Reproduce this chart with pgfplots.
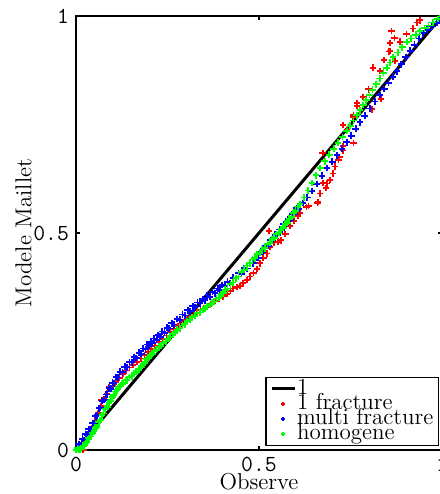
\documentclass[border=0pt]{standalone}
\usepackage{fontspec}
\usepackage{pgfplots}
\pgfplotsset{compat=1.18}
\newcommand{\lbl}{\fontsize{11.5}{12}\selectfont}
\pgfplotsset{
  lineleg/.style={legend image code/.code={\draw[##1] (0pt,0pt) -- (11.5pt,0pt);}},
  markleg/.style={legend image code/.code={\draw[##1, mark size=0.9pt] plot coordinates {(5.75pt,0pt)};}},
}
\begin{document}
\begin{tikzpicture}
\begin{axis}[
  width=183pt, height=217pt, scale only axis,
  xmin=0, xmax=1, ymin=0, ymax=1,
  clip=false,
  xtick={0,0.5,1}, ytick={0,0.5,1},
  xticklabels={\texttt{0},\texttt{0.5},\texttt{1}},
  yticklabels={\texttt{0},\texttt{0.5},\texttt{1}},
  tick align=inside, major tick length=2pt,
  axis line style={line width=0.8pt},
  tick style={line width=0.6pt, black},
  ticklabel style={font=\lbl},
  xlabel={Observe}, ylabel={Modele Maillet},
  label style={font=\lbl},
  xlabel style={yshift=6pt},
  ylabel style={yshift=-6pt},
  legend style={at={(1,0)}, anchor=south east, xshift=-1.5pt, yshift=2pt,
    draw=black, line width=0.6pt, inner sep=2pt, font=\lbl,
    cells={anchor=west}, row sep=0pt,
    nodes={inner sep=0.5pt, text height=5.8pt, text depth=0.7pt}},
]
\addplot[black, line width=1.5pt, lineleg]
  coordinates {(0,0) (1,1)};
\addlegendentry{1}
\addplot[only marks, mark=+, red, mark size=1.6pt, mark options={line width=0.9pt}, markleg]
  table {
0.020 0.000
0.028 0.015
0.036 0.032
0.044 0.050
0.052 0.068
0.060 0.085
0.070 0.115
0.068 0.102
0.077 0.118
0.085 0.130
0.090 0.145
0.093 0.140
0.101 0.148
0.110 0.157
0.119 0.166
0.128 0.175
0.137 0.183
0.146 0.190
0.156 0.196
0.167 0.203
0.177 0.211
0.187 0.219
0.196 0.226
0.205 0.233
0.216 0.240
0.227 0.248
0.237 0.256
0.247 0.264
0.257 0.272
0.268 0.279
0.279 0.286
0.290 0.293
0.300 0.299
0.311 0.306
0.321 0.312
0.330 0.317
0.340 0.322
0.349 0.326
0.358 0.330
0.369 0.336
0.380 0.343
0.391 0.349
0.402 0.354
0.413 0.360
0.422 0.367
0.430 0.372
0.439 0.376
0.448 0.378
0.457 0.384
0.467 0.392
0.476 0.400
0.485 0.408
0.494 0.417
0.503 0.430
0.512 0.442
0.521 0.453
0.530 0.468
0.528 0.505
0.540 0.478
0.551 0.480
0.560 0.483
0.572 0.498
0.585 0.516
0.596 0.528
0.607 0.539
0.612 0.546
0.630 0.560
0.635 0.562
0.660 0.570
0.662 0.572
0.667 0.591
0.675 0.615
0.683 0.604
0.685 0.614
0.694 0.622
0.703 0.637
0.708 0.653
0.717 0.668
0.720 0.675
0.730 0.690
0.730 0.700
0.674 0.684
0.740 0.737
0.730 0.749
0.758 0.708
0.757 0.767
0.758 0.772
0.767 0.793
0.768 0.800
0.785 0.814
0.799 0.831
0.808 0.785
0.833 0.809
0.812 0.881
0.830 0.873
0.842 0.898
0.855 0.918
0.858 0.938
0.862 0.965
0.872 0.896
0.885 0.941
0.903 0.958
0.920 0.971
0.931 0.985
0.858 0.920
0.870 0.950
0.940 0.990
};
\addlegendentry{1 fracture}
\addplot[only marks, mark=+, blue, mark size=1.7pt, mark options={line width=0.9pt}, markleg]
  table {
0.000 0.000
0.005 0.004
0.010 0.010
0.015 0.016
0.022 0.023
0.030 0.035
0.040 0.048
0.049 0.062
0.058 0.080
0.067 0.097
0.077 0.115
0.086 0.128
0.095 0.141
0.104 0.154
0.115 0.167
0.127 0.179
0.139 0.191
0.152 0.202
0.165 0.212
0.178 0.222
0.190 0.232
0.200 0.240
0.208 0.246
0.220 0.254
0.230 0.261
0.242 0.270
0.255 0.280
0.268 0.289
0.284 0.300
0.298 0.310
0.312 0.320
0.325 0.329
0.339 0.338
0.352 0.345
0.366 0.353
0.380 0.361
0.393 0.369
0.407 0.377
0.421 0.385
0.436 0.395
0.452 0.406
0.468 0.418
0.484 0.430
0.498 0.443
0.511 0.457
0.525 0.470
0.538 0.484
0.550 0.495
0.562 0.507
0.574 0.519
0.585 0.530
0.597 0.543
0.609 0.556
0.620 0.569
0.632 0.582
0.645 0.597
0.658 0.613
0.672 0.632
0.686 0.650
0.700 0.664
0.713 0.679
0.727 0.694
0.740 0.709
0.752 0.724
0.764 0.740
0.776 0.755
0.789 0.770
0.803 0.787
0.817 0.803
0.830 0.818
0.842 0.832
0.854 0.846
0.866 0.860
0.877 0.873
0.889 0.889
0.901 0.905
0.913 0.920
0.925 0.934
0.937 0.948
0.948 0.960
0.960 0.968
0.973 0.976
0.986 0.984
0.994 0.992
1.000 1.000
0.0075 0.014
0.018 0.026
0.026 0.036
0.035 0.048
0.045 0.062
0.054 0.078
0.063 0.096
0.072 0.113
0.082 0.128
0.091 0.142
0.100 0.155
0.110 0.168
0.121 0.180
0.133 0.192
0.146 0.203
0.159 0.214
0.172 0.224
0.184 0.234
0.195 0.243
0.204 0.250
0.214 0.257
0.225 0.265
0.236 0.273
0.249 0.282
0.262 0.292
0.276 0.302
0.291 0.312
0.305 0.322
0.319 0.331
0.332 0.340
0.346 0.348
0.359 0.356
0.373 0.364
0.387 0.372
0.400 0.380
0.414 0.388
0.429 0.397
0.444 0.407
0.460 0.419
0.476 0.431
0.491 0.443
0.505 0.457
0.518 0.470
0.532 0.484
0.544 0.496
0.556 0.508
0.568 0.520
0.580 0.532
0.591 0.544
0.603 0.557
};
\addlegendentry{multi fracture}
\addplot[only marks, mark=+, green, mark size=1.7pt, mark options={line width=0.9pt}, markleg]
  table {
0.000 0.000
0.008 0.002
0.015 0.004
0.022 0.008
0.030 0.018
0.040 0.031
0.049 0.043
0.057 0.053
0.066 0.069
0.075 0.084
0.085 0.100
0.094 0.113
0.103 0.126
0.112 0.138
0.121 0.147
0.130 0.154
0.139 0.161
0.152 0.170
0.165 0.180
0.178 0.190
0.188 0.201
0.198 0.212
0.208 0.222
0.220 0.231
0.232 0.240
0.245 0.250
0.257 0.260
0.270 0.270
0.284 0.280
0.297 0.290
0.311 0.300
0.325 0.309
0.339 0.317
0.352 0.325
0.366 0.334
0.378 0.342
0.390 0.351
0.402 0.361
0.414 0.372
0.429 0.386
0.444 0.400
0.460 0.415
0.475 0.430
0.488 0.442
0.502 0.454
0.516 0.465
0.530 0.477
0.542 0.489
0.554 0.500
0.566 0.512
0.577 0.523
0.589 0.537
0.600 0.551
0.612 0.566
0.623 0.582
0.634 0.598
0.645 0.615
0.656 0.633
0.667 0.650
0.680 0.665
0.692 0.680
0.704 0.694
0.716 0.708
0.728 0.721
0.740 0.735
0.749 0.747
0.758 0.759
0.767 0.771
0.776 0.783
0.785 0.795
0.793 0.806
0.802 0.818
0.810 0.830
0.820 0.843
0.830 0.856
0.840 0.869
0.849 0.881
0.858 0.893
0.866 0.905
0.879 0.916
0.891 0.928
0.904 0.940
0.916 0.948
0.928 0.957
0.940 0.965
0.952 0.972
0.963 0.978
0.975 0.985
0.988 0.993
1.000 1.000
0.004 0.004
0.012 0.001
0.019 0.010
0.026 0.016
0.035 0.027
0.045 0.040
0.053 0.051
0.062 0.064
0.071 0.080
0.080 0.095
0.090 0.109
0.099 0.122
0.108 0.135
0.117 0.145
0.126 0.153
0.135 0.160
0.146 0.168
0.159 0.177
0.172 0.187
0.183 0.198
0.193 0.209
0.203 0.219
0.214 0.228
0.226 0.238
0.239 0.247
0.251 0.257
0.264 0.267
0.277 0.277
0.291 0.287
0.304 0.297
0.318 0.306
0.332 0.315
0.346 0.323
0.359 0.332
0.372 0.340
0.384 0.349
0.396 0.359
0.408 0.369
0.422 0.382
0.437 0.396
0.452 0.410
0.468 0.425
0.482 0.439
0.495 0.451
0.509 0.462
0.523 0.474
0.536 0.486
0.548 0.497
0.560 0.509
0.572 0.521
0.583 0.533
0.595 0.547
0.606 0.561
};
\addlegendentry{homogene}
\end{axis}
\pgfresetboundingbox
\path[use as bounding box] ([shift={(-38pt,-22pt)}]current axis.south west) rectangle ++(220pt,247pt);
\end{tikzpicture}
\end{document}
